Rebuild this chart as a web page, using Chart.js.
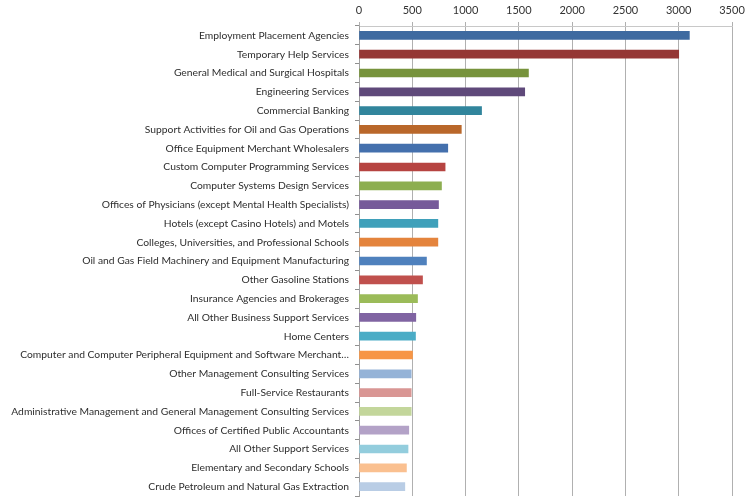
<!DOCTYPE html>
<html>
<head>
<meta charset="utf-8">
<script src="https://cdn.jsdelivr.net/npm/chart.js@4/dist/chart.umd.min.js"></script>
<style>
html,body{margin:0;padding:0;background:#fff;}
#c{display:block;}
</style>
</head>
<body>
<canvas id="c" width="750" height="497"></canvas>
<script>
const categories = [
  "Employment Placement Agencies",
  "Temporary Help Services",
  "General Medical and Surgical Hospitals",
  "Engineering Services",
  "Commercial Banking",
  "Support Activities for Oil and Gas Operations",
  "Office Equipment Merchant Wholesalers",
  "Custom Computer Programming Services",
  "Computer Systems Design Services",
  "Offices of Physicians (except Mental Health Specialists)",
  "Hotels (except Casino Hotels) and Motels",
  "Colleges, Universities, and Professional Schools",
  "Oil and Gas Field Machinery and Equipment Manufacturing",
  "Other Gasoline Stations",
  "Insurance Agencies and Brokerages",
  "All Other Business Support Services",
  "Home Centers",
  "Computer and Computer Peripheral Equipment and Software Merchant\u2026",
  "Other Management Consulting Services",
  "Full-Service Restaurants",
  "Administrative Management and General Management Consulting Services",
  "Offices of Certified Public Accountants",
  "All Other Support Services",
  "Elementary and Secondary Schools",
  "Crude Petroleum and Natural Gas Extraction"
];
const values = [3100, 3000, 1590, 1555, 1150, 960, 833, 808, 774, 746, 740, 740, 633, 596, 549, 533, 530, 502, 490, 490, 490, 467, 460, 445, 430];
const barColors = [
  "#3E6AA0", "#953735", "#77933C", "#5F497A", "#31859C", "#B9672A",
  "#4470AD", "#B64441", "#8DAE50", "#765A9A", "#3FA0BA", "#E4843D",
  "#4F81BD", "#C0504D", "#9BBB59", "#8064A2", "#4BACC6", "#F79646",
  "#95B3D7", "#D99694", "#C3D69B", "#B3A2C7", "#93CDDD", "#FAC090", "#B9CDE5"
];
const xTicks = [0, 500, 1000, 1500, 2000, 2500, 3000, 3500];

new Chart(document.getElementById('c'), {
  type: 'bar',
  data: {
    labels: categories,
    datasets: [{
      data: values,
      backgroundColor: barColors,
      borderWidth: 0,
      barThickness: 8
    }]
  },
  options: {
    responsive: false,
    animation: false,
    indexAxis: 'y',
    layout: { padding: { left: 0, right: 18, top: 0, bottom: 1 } },
    plugins: { legend: { display: false }, tooltip: { enabled: false } },
    scales: {
      x: {
        position: 'top',
        min: 0,
        max: 3500,
        afterBuildTicks: (s) => { s.ticks = xTicks.map(v => ({ value: v })); },
        afterFit: (s) => { s.height = 26; s.paddingLeft = 0; s.paddingRight = 0; },
        ticks: { color: '#333333', font: { family: 'Lato', size: 11 }, padding: 5, callback: (v) => String(v) },
        grid: { color: '#B0B0B0', lineWidth: 1, tickLength: 4, drawTicks: true },
        border: { display: true, color: '#C8C8C8' }
      },
      y: {
        afterFit: (s) => { s.width = 359; s.paddingTop = 0; s.paddingBottom = 0; },
        ticks: { color: '#2E2E2E', font: { family: 'Lato', size: 10.3 }, padding: 6, autoSkip: false },
        grid: { drawOnChartArea: false, tickLength: 4, color: '#909090', offset: true },
        border: { display: true, color: '#A0A0A0' }
      }
    }
  }
});
</script>
</body>
</html>
